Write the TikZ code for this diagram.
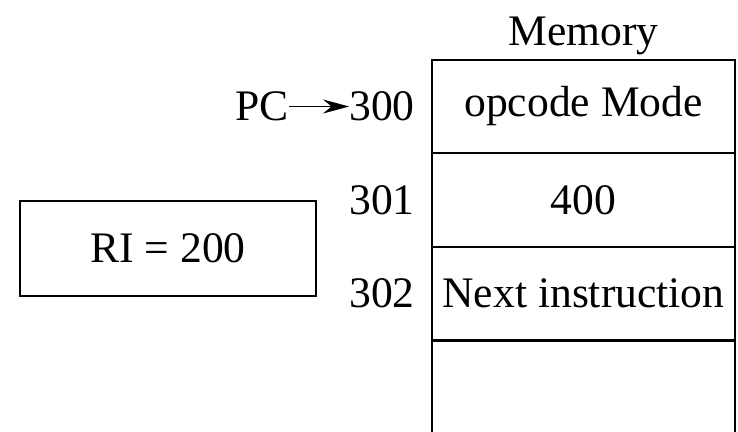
\documentclass[tikz,border=0pt]{standalone}
\usepackage{fontspec}
\setmainfont{Liberation Serif}
\usetikzlibrary{positioning,arrows.meta}
\begin{document}
\begin{tikzpicture}[x=0.25mm,y=-0.25mm]
  \tikzstyle{every node}=[font=\fontsize{31}{36}\selectfont]
  \tikzstyle{cell}=[draw,line width=1.6pt,outer sep=0pt,inner sep=0pt,minimum width=75.75mm,minimum height=23.4mm]
  \tikzstyle{addr}=[inner sep=0pt]
  \useasboundingbox (0,0) rectangle (738,431);
  % memory words
  \node[cell] (m1) at (583.5,106.5) {opcode Mode};
  \node[cell,below=0pt of m1] (m2) {400};
  \node[cell,below=0pt of m2] (m3) {Next instruction};
  \node[cell,draw=none,below=0pt of m3] (m4) {};
  \draw[line width=1.6pt] (m4.north west) -- (m4.south west)
                          (m4.north east) -- (m4.south east);
  \node[above=1.25mm of m1,inner sep=0pt] (mem) {Memory};
  % addresses
  \node[addr,left=4.25mm of m1] (a300) {300};
  \node[addr,left=4.25mm of m2] (a301) {301};
  \node[addr,left=4.25mm of m3] (a302) {302};
  \node[addr,left=15mm of a300] (pc) {PC};
  \draw[line width=1pt,-{Stealth[length=6.5mm,width=3.5mm]}] (pc) -- (a300);
  % register
  \node[draw,line width=1.6pt,minimum width=74mm,minimum height=23.75mm] (ri) at (168,248.5) {RI = 200};
\end{tikzpicture}
\end{document}
